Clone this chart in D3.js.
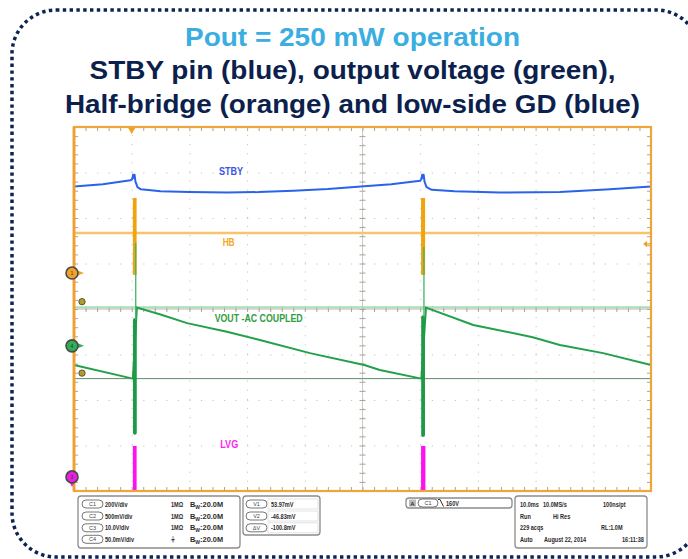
<!DOCTYPE html>
<html>
<head>
<meta charset="utf-8">
<script src="https://cdn.jsdelivr.net/npm/d3@7/dist/d3.min.js"></script>
<style>
  body { margin: 0; background: #fff; }
  svg { display: block; font-family: "Liberation Sans", Arial, sans-serif; }
  .tick line { stroke: #aaa49c; }
  .grid .tick line { stroke: #c4c4c4; }
</style>
</head>
<body>
<div id="chart"></div>
<script>
'use strict';

// title text
var titleLines = [
  'Pout = 250 mW operation',
  'STBY pin (blue), output voltage (green),',
  'Half-bridge (orange) and low-side GD (blue)'
];

// time in ms (10 ms/div), level in screen divisions (0 = centre)
var xDomain = [ 0, 100 ],
    yDomain = [ -4, 4 ];

// STBY pin trace [ms, div]
var stby = [
  [0, 2.69], [5, 2.74], [9.8, 2.83], [10.1, 2.86], [10.25, 2.95], [10.4, 2.88],
  [10.5, 2.95], [10.65, 2.80], [11.0, 2.68], [11.6, 2.63], [15, 2.59], [20, 2.57],
  [26.5, 2.56], [32, 2.57], [38, 2.60], [44, 2.64], [50.3, 2.70], [55, 2.74],
  [60.0, 2.82], [60.2, 2.86], [60.35, 2.95], [60.5, 2.88], [60.6, 2.95], [60.75, 2.80],
  [61.1, 2.68], [62.0, 2.62], [66, 2.59], [73.8, 2.56], [84.2, 2.57], [92.9, 2.63],
  [100, 2.69]
];

// half-bridge: flat level plus switching bursts [t0, t1, low, high]
var hbLevel = 1.67;
var hbBursts = [ [10.2, 10.85, 0.75, 2.44], [60.15, 60.85, 0.75, 2.44] ];

// output voltage, AC coupled [ms, div]
var vout = [
  [0, -1.23], [10.2, -1.53], [10.9, 0.03], [15, -0.12], [19.6, -0.31], [26.5, -0.50],
  [32.2, -0.68], [40.9, -0.97], [50.3, -1.23], [53, -1.34], [60.2, -1.53], [61.0, 0.03],
  [69.2, -0.35], [79.5, -0.62], [84.2, -0.79], [91.7, -0.97], [100, -1.23]
];
// ringing at each burst [t, bottom, thick top, tip]
var voutBursts = [ [10.55, -2.72, -0.24, 1.45], [60.5, -2.77, -0.18, 1.36] ];

// low-side gate drive pulses [t0, t1, low, high]
var lvgPulses = [ [10.2, 10.85, -4, -3.01], [60.15, 60.9, -4, -3.01] ];

// cursors (div)
var cursorV1 = 0.04,
    cursorV2 = -1.53;

// channel ground markers
var chMarkers = [
  { name: '1', level: 0.79, color: '#f2a22a', dir: 'right' },
  { name: '4', level: -0.81, color: '#2fae55', dir: 'right' },
  { name: '3', level: -3.69, color: '#e81fe0', dir: 'down' }
];

var traceLabels = [
  { text: 'STBY', t: 27.2, v: 2.95, color: '#3a55e6', w: 24 },
  { text: 'HB', t: 26.8, v: 1.38, color: '#f5a623', w: 12 },
  { text: 'VOUT -AC COUPLED', t: 32.0, v: -0.29, color: '#2e9e3e', w: 88 },
  { text: 'LVG', t: 26.9, v: -3.05, color: '#ff1ff0', w: 18 }
];

var triggerTime = 10,
    triggerLevel = 1.43;

// scope readout panels
var chRows = [
  [ 'C1', '200V/div', '1M\u03A9' ],
  [ 'C2', '500mV/div', '1M\u03A9' ],
  [ 'C3', '10.0V/div', '1M\u03A9' ],
  [ 'C4', '50.0mV/div', '\u23DA' ]
];
var cursorRows = [ [ 'V1', '53.97mV' ], [ 'V2', '-46.83mV' ], [ '\u0394V', '-100.8mV' ] ];
var acqRows = [
  [ '10.0ms', '10.0MS/s', '100ns/pt' ],
  [ 'Run', 'Hi Res', '' ],
  [ '229 acqs', '', 'RL:1.0M' ],
  [ 'Auto', 'August 22, 2014', '16:11:38' ]
];

var W = 688, H = 559;
var margin = { top: 127, left: 74 },
    width = 577,
    height = 364;

var root = d3.select( '#chart' ).append( 'svg' )
  .attr( 'width', W )
  .attr( 'height', H );

// dotted rounded frame
root.append( 'rect' )
  .attr( 'x', 12 ).attr( 'y', 10 )
  .attr( 'width', 688 ).attr( 'height', 547 )
  .attr( 'rx', 44 )
  .attr( 'fill', 'none' )
  .attr( 'stroke', '#0d2352' )
  .attr( 'stroke-width', 3.5 )
  .attr( 'stroke-dasharray', '3.4 3.4' );

// titles
var titleY = [ 46, 79, 113 ],
    titleW = [ 335, 526, 575 ];
titleLines.forEach( function( t, i ) {
  root.append( 'text' )
    .attr( 'x', 352.5 )
    .attr( 'y', titleY[i] )
    .attr( 'text-anchor', 'middle' )
    .attr( 'textLength', titleW[i] )
    .attr( 'lengthAdjust', 'spacingAndGlyphs' )
    .style( 'font-size', '26.5px' )
    .style( 'font-weight', 'bold' )
    .style( 'fill', i === 0 ? '#3aaee0' : '#0c1f4d' )
    .text( t );
} );

var svg = root.append( 'g' )
  .attr( 'transform', 'translate(' + margin.left + ',' + margin.top + ')' );

var x = d3.scaleLinear().domain( xDomain ).range( [ 0, width ] );
var y = d3.scaleLinear().domain( yDomain ).range( [ height, 0 ] );

var majorX = d3.range( xDomain[0], xDomain[1] + 0.01, 10 ),
    majorY = d3.range( yDomain[0], yDomain[1] + 0.01, 1 ),
    minorX = d3.range( xDomain[0], xDomain[1] + 0.01, 2 ),
    minorY = d3.range( yDomain[0], yDomain[1] + 0.01, 0.2 );

var stepX = x( 2 ) - x( 0 ),
    stepY = y( 0 ) - y( 0.2 );

// dotted graticule
svg.append( 'g' )
  .attr( 'class', 'grid' )
  .attr( 'transform', 'translate(0,' + height + ')' )
  .call( d3.axisBottom( x ).tickValues( majorX ).tickSize( -height ).tickFormat( '' ) )
  .call( function( g ) { g.select( '.domain' ).remove(); } )
  .selectAll( 'line' )
    .attr( 'stroke-dasharray', '1.2,' + ( stepY - 1.2 ) );

svg.append( 'g' )
  .attr( 'class', 'grid' )
  .call( d3.axisLeft( y ).tickValues( majorY ).tickSize( -width ).tickFormat( '' ) )
  .call( function( g ) { g.select( '.domain' ).remove(); } )
  .selectAll( 'line' )
    .attr( 'stroke-dasharray', '1.2,' + ( stepX - 1.2 ) );

// centre cross
svg.append( 'line' )
  .attr( 'x1', 0 ).attr( 'x2', width )
  .attr( 'y1', y( 0 ) ).attr( 'y2', y( 0 ) )
  .attr( 'stroke', '#b9b2aa' ).attr( 'stroke-width', 1 );
svg.append( 'line' )
  .attr( 'x1', x( 50 ) ).attr( 'x2', x( 50 ) )
  .attr( 'y1', 0 ).attr( 'y2', height )
  .attr( 'stroke', '#cfc9c2' ).attr( 'stroke-width', 1 );

function noDomain( g ) { g.select( '.domain' ).remove(); }

// minor ticks on edges and centre lines
svg.append( 'g' ).attr( 'transform', 'translate(0,' + height + ')' )
  .call( d3.axisBottom( x ).tickValues( minorX ).tickSize( -4 ).tickFormat( '' ) ).call( noDomain );
svg.append( 'g' )
  .call( d3.axisTop( x ).tickValues( minorX ).tickSize( -4 ).tickFormat( '' ) ).call( noDomain );
svg.append( 'g' )
  .call( d3.axisLeft( y ).tickValues( minorY ).tickSize( -4 ).tickFormat( '' ) ).call( noDomain );
svg.append( 'g' ).attr( 'transform', 'translate(' + width + ',0)' )
  .call( d3.axisRight( y ).tickValues( minorY ).tickSize( -4 ).tickFormat( '' ) ).call( noDomain );
svg.append( 'g' ).attr( 'transform', 'translate(0,' + ( y( 0 ) + 3 ) + ')' )
  .call( d3.axisTop( x ).tickValues( minorX ).tickSize( 6 ).tickFormat( '' ) ).call( noDomain );
svg.append( 'g' ).attr( 'transform', 'translate(' + ( x( 50 ) + 3 ) + ',0)' )
  .call( d3.axisLeft( y ).tickValues( minorY ).tickSize( 6 ).tickFormat( '' ) ).call( noDomain );

// cursors
svg.append( 'line' )
  .attr( 'x1', 0 ).attr( 'x2', width )
  .attr( 'y1', y( cursorV1 ) ).attr( 'y2', y( cursorV1 ) )
  .attr( 'stroke', '#a9dfb9' ).attr( 'stroke-width', 2 );
svg.append( 'line' )
  .attr( 'x1', 0 ).attr( 'x2', width )
  .attr( 'y1', y( cursorV2 ) ).attr( 'y2', y( cursorV2 ) )
  .attr( 'stroke', '#5f8c6c' ).attr( 'stroke-width', 1 );

var line = d3.line()
  .x( function( d ) { return x( d[0] ); } )
  .y( function( d ) { return y( d[1] ); } );

// HB level
svg.append( 'path' )
  .attr( 'd', line( [ [ xDomain[0], hbLevel ], [ xDomain[1], hbLevel ] ] ) )
  .attr( 'stroke', '#f7c36b' ).attr( 'stroke-width', 2.4 ).attr( 'fill', 'none' );

// STBY
svg.append( 'path' )
  .attr( 'd', line( stby ) )
  .attr( 'stroke', '#2a63ea' ).attr( 'stroke-width', 2 ).attr( 'fill', 'none' )
  .attr( 'stroke-linejoin', 'round' );

// HB bursts
svg.selectAll( '.hb' ).data( hbBursts ).enter().append( 'rect' )
  .attr( 'x', function( d ) { return x( d[0] ); } )
  .attr( 'width', function( d ) { return x( d[1] ) - x( d[0] ); } )
  .attr( 'y', function( d ) { return y( d[3] ); } )
  .attr( 'height', function( d ) { return y( d[2] ) - y( d[3] ); } )
  .attr( 'fill', '#f0a30a' );

// VOUT
svg.append( 'path' )
  .attr( 'd', line( vout ) )
  .attr( 'stroke', '#23a04a' ).attr( 'stroke-width', 2 ).attr( 'fill', 'none' );

voutBursts.forEach( function( b ) {
  svg.append( 'path' )
    .attr( 'd', line( [ [ b[0], b[1] ], [ b[0], b[2] ] ] ) )
    .attr( 'stroke', '#1f9a44' ).attr( 'stroke-width', 3.8 )
    .attr( 'stroke-linecap', 'round' );
  svg.append( 'path' )
    .attr( 'd', line( [ [ b[0] + 0.15, b[2] ], [ b[0] + 0.15, b[3] ] ] ) )
    .attr( 'stroke', '#3fb565' ).attr( 'stroke-width', 1.3 );
} );

// LVG pulses
svg.selectAll( '.lvg' ).data( lvgPulses ).enter().append( 'rect' )
  .attr( 'x', function( d ) { return x( d[0] ); } )
  .attr( 'width', function( d ) { return x( d[1] ) - x( d[0] ); } )
  .attr( 'y', function( d ) { return y( d[3] ); } )
  .attr( 'height', function( d ) { return y( d[2] ) - y( d[3] ); } )
  .attr( 'fill', '#ff10f0' );

// trace labels
traceLabels.forEach( function( l ) {
  svg.append( 'text' )
    .attr( 'x', x( l.t ) )
    .attr( 'y', y( l.v ) )
    .attr( 'text-anchor', 'middle' )
    .attr( 'textLength', l.w )
    .attr( 'lengthAdjust', 'spacingAndGlyphs' )
    .style( 'font-size', '10px' )
    .style( 'font-weight', 'bold' )
    .style( 'fill', l.color )
    .text( l.text );
} );

// plot frame
svg.append( 'rect' )
  .attr( 'width', width ).attr( 'height', height )
  .attr( 'fill', 'none' )
  .attr( 'stroke', '#f0a53a' ).attr( 'stroke-width', 2.2 );
svg.append( 'line' )
  .attr( 'x1', 0 ).attr( 'x2', 0 ).attr( 'y1', 0 ).attr( 'y2', height )
  .attr( 'stroke', '#f0a030' ).attr( 'stroke-width', 2.8 );

// trigger position and level markers
svg.append( 'path' )
  .attr( 'transform', 'translate(' + x( triggerTime ) + ',3)' )
  .attr( 'd', 'M-3.5,-2L3.5,-2L0,4Z' )
  .attr( 'fill', '#f0a020' );
svg.append( 'path' )
  .attr( 'transform', 'translate(' + ( width - 8 ) + ',' + y( triggerLevel ) + ')' )
  .attr( 'd', 'M0,0L4,-3L4,3Z M4,-0.6L9,-0.6L9,0.6L4,0.6Z' )
  .attr( 'fill', '#f0a020' );

// cursor handles
[ cursorV1, cursorV2 ].forEach( function( c ) {
  svg.append( 'circle' )
    .attr( 'cx', 8 ).attr( 'cy', y( c ) - 5.5 )
    .attr( 'r', 3.2 )
    .attr( 'fill', '#b39a2e' ).attr( 'stroke', '#4a4020' ).attr( 'stroke-width', 0.8 );
} );

// channel ground markers
chMarkers.forEach( function( m ) {
  var g = svg.append( 'g' ).attr( 'transform', 'translate(-2,' + y( m.level ) + ')' );
  if ( m.dir === 'right' ) {
    g.append( 'path' ).attr( 'd', 'M3,-3.5L12,0L3,3.5Z' ).attr( 'fill', m.color );
  } else {
    g.append( 'path' ).attr( 'd', 'M-3.5,3L3.5,3L0,10Z' ).attr( 'fill', m.color );
  }
  g.append( 'circle' ).attr( 'r', 6 )
    .attr( 'fill', m.color ).attr( 'stroke', '#4a4a4a' ).attr( 'stroke-width', 1.6 );
  g.append( 'text' ).attr( 'y', 2 ).attr( 'text-anchor', 'middle' )
    .style( 'font-size', '5px' ).style( 'fill', '#333' ).text( m.name );
} );

// readout panels
function panel( px, py, pw, ph ) {
  root.append( 'rect' )
    .attr( 'x', px ).attr( 'y', py ).attr( 'width', pw ).attr( 'height', ph )
    .attr( 'rx', 3 ).attr( 'fill', '#fff' )
    .attr( 'stroke', '#8c8c8c' ).attr( 'stroke-width', 1.3 );
}
function pill( px, py, label, w ) {
  root.append( 'rect' )
    .attr( 'x', px ).attr( 'y', py - 4 ).attr( 'width', w || 21 ).attr( 'height', 8 )
    .attr( 'rx', 4 ).attr( 'fill', '#fff' )
    .attr( 'stroke', '#666' ).attr( 'stroke-width', 0.9 );
  root.append( 'text' )
    .attr( 'x', px + ( w || 21 ) / 2 ).attr( 'y', py + 2 )
    .attr( 'text-anchor', 'middle' )
    .style( 'font-size', '5.5px' ).style( 'fill', '#444' )
    .text( label );
}
// scope font is narrow: squeeze each readout to ~75% of its natural width
function readout( px, py, s ) {
  var t = root.append( 'text' )
    .attr( 'x', px ).attr( 'y', py + 2.6 )
    .style( 'font-size', '7.4px' ).style( 'font-weight', 'bold' ).style( 'fill', '#2a2a2a' )
    .text( s );
  var len = t.node().getComputedTextLength();
  t.attr( 'textLength', len * 0.75 ).attr( 'lengthAdjust', 'spacingAndGlyphs' );
  return t;
}

var rowY = [ 504, 516, 527.8, 539.3 ];

panel( 78, 496, 162, 52 );
chRows.forEach( function( r, i ) {
  pill( 82, rowY[i], r[0] );
  readout( 105, rowY[i], r[1] );
  readout( 171, rowY[i], r[2] );
  var bw = root.append( 'text' )
    .attr( 'x', 190 ).attr( 'y', rowY[i] + 2.6 )
    .style( 'font-size', '7.4px' ).style( 'font-weight', 'bold' ).style( 'fill', '#2a2a2a' )
    .text( 'B' );
  bw.append( 'tspan' ).attr( 'dy', 2 ).style( 'font-size', '5px' ).text( 'W' );
  bw.append( 'tspan' ).attr( 'dy', -2 ).text( ':20.0M' );
} );

panel( 243, 496, 77, 39 );
cursorRows.forEach( function( r, i ) {
  pill( 246, rowY[i], r[0] );
  root.append( 'rect' )
    .attr( 'x', 268 ).attr( 'y', rowY[i] - 5 ).attr( 'width', 50 ).attr( 'height', 10 )
    .attr( 'fill', 'none' ).attr( 'stroke', '#dcdcdc' ).attr( 'stroke-width', 0.8 );
  readout( 271, rowY[i], r[1] );
} );

panel( 406, 498, 106, 10 );
root.append( 'rect' )
  .attr( 'x', 409 ).attr( 'y', 499.5 ).attr( 'width', 7 ).attr( 'height', 7 )
  .attr( 'fill', '#bbb' );
root.append( 'text' ).attr( 'x', 412.5 ).attr( 'y', 505.5 ).attr( 'text-anchor', 'middle' )
  .style( 'font-size', '6px' ).style( 'font-weight', 'bold' ).style( 'fill', '#333' ).text( 'A' );
pill( 418, 503, 'C1', 20 );
root.append( 'path' )
  .attr( 'd', 'M438,499.5L440,499.5L443.5,506.5' )
  .attr( 'fill', 'none' ).attr( 'stroke', '#333' ).attr( 'stroke-width', 1 );
readout( 446, 503, '160V' );

panel( 515, 496, 132, 52 );
var acqX = [ 520, 543, 603 ];
acqRows.forEach( function( r, i ) {
  var cols = acqX.slice();
  if ( i === 1 ) cols[1] = 553;
  if ( i === 2 ) cols[2] = 601;
  if ( i === 3 ) { cols[1] = 544; cols[2] = 622; }
  r.forEach( function( s, j ) { if ( s ) readout( cols[j], rowY[i], s ); } );
} );
</script>
</body>
</html>
